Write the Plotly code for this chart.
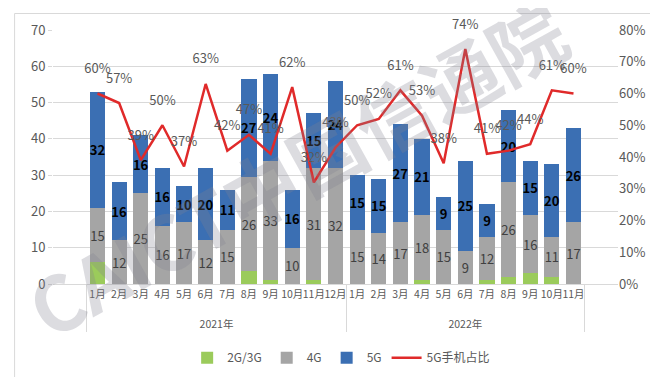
import plotly.graph_objects as go

years = ["<br>2021年"] * 12 + ["<br>2022年"] * 11
months = [f"{i}月" for i in range(1, 13)] + [f"{i}月" for i in range(1, 12)]

g23 = [6, 0, 0, 0, 0, 0, 0, 3.5, 1, 0, 1, 0,
       0, 0, 0, 1, 0, 0, 1, 2, 3, 2, 0]
g4 = [15, 12, 25, 16, 17, 12, 15, 26, 33, 10, 31, 32,
      15, 14, 17, 18, 15, 9, 12, 26, 16, 11, 17]
g5 = [32, 16, 16, 16, 10, 20, 11, 27, 24, 16, 15, 24,
      15, 15, 27, 21, 9, 25, 9, 20, 15, 20, 26]
share = [60, 57, 39, 50, 37, 63, 42, 47, 41, 62, 32, 43,
         50, 52, 61, 53, 38, 74, 41, 42, 44, 61, 60]

FONT = "Noto Sans CJK SC"
x = [years, months]

fig = go.Figure()
fig.add_trace(go.Bar(x=x, y=g23, name="2G/3G", marker_color="#9BCB5B",
                     marker_line_width=0))
fig.add_trace(go.Bar(x=x, y=g4, name="4G", marker_color="#A5A5A5",
                     marker_line_width=0,
                     text=[str(v) for v in g4], textposition="inside",
                     insidetextanchor="middle", constraintext="none",
                     textfont=dict(size=13, color="#404040", family=FONT)))
fig.add_trace(go.Bar(x=x, y=g5, name="5G", marker_color="#3B6FB3",
                     marker_line_width=0,
                     text=[f"<b>{v}</b>" for v in g5], textposition="inside",
                     insidetextanchor="middle", constraintext="none",
                     textfont=dict(size=13, color="#000000", family=FONT)))
fig.add_trace(go.Scatter(x=x, y=[s / 100 for s in share], name="5G手机占比",
                         yaxis="y2", mode="lines+markers+text",
                         line=dict(color="#E02A2A", width=2.5),
                         marker=dict(size=26, color="rgba(0,0,0,0)"),
                         text=[f"{s}%" for s in share], textposition="top center",
                         textfont=dict(size=13, color="#595959", family=FONT),
                         cliponaxis=False))

fig.add_annotation(text="CAICT中国信通院", x=0.43, y=0.46, xref="paper", yref="paper",
                   showarrow=False, textangle=-29,
                   font=dict(size=76, color="rgba(130,130,145,0.28)", family=FONT,
                             weight="bold"))

fig.update_layout(
    width=658, height=377,
    margin=dict(l=45, r=48, t=17, b=101),
    barmode="stack", bargap=0.3,
    plot_bgcolor="white", paper_bgcolor="white",
    font=dict(family=FONT, color="#595959", size=12),
    showlegend=True,
    legend=dict(orientation="h", x=0.51, xanchor="center", y=-0.29, yanchor="middle",
                font=dict(size=12, color="#595959"), traceorder="normal",
                itemwidth=30),
    xaxis=dict(type="multicategory", showline=True, linecolor="#D9D9D9",
               dividercolor="#D9D9D9", dividerwidth=1, showdividers=True,
               tickangle=0,
               tickfont=dict(size=10.5, color="#595959"), ticks=""),
    yaxis=dict(range=[0, 70], dtick=10, showgrid=True, gridcolor="#D9D9D9",
               zeroline=False, tickfont=dict(size=13, color="#595959"),
               ticks="outside", ticklen=4, tickcolor="#D9D9D9"),
    yaxis2=dict(range=[0, 0.8], dtick=0.1, tickformat=".0%", overlaying="y",
                side="right", showgrid=False, zeroline=False,
                tickfont=dict(size=13, color="#595959")),
)
fig.add_shape(type="rect", xref="paper", yref="paper",
              x0=-0.068, x1=1.07, y0=-0.39, y1=1.065,
              line=dict(color="#D9D9D9", width=1))

fig.write_html("out.html")
